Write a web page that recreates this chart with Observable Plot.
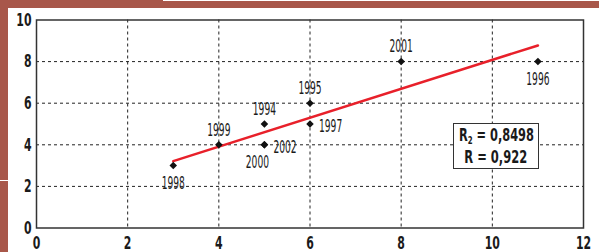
<!DOCTYPE html>
<html>
<head>
<meta charset="utf-8">
<script src="https://cdn.jsdelivr.net/npm/d3@7"></script>
<script src="https://cdn.jsdelivr.net/npm/@observablehq/plot@0.6"></script>
<style>
  html, body { margin: 0; padding: 0; background: #fff; }
  #wrap { position: relative; width: 599px; height: 252px; overflow: hidden; background: #fff; }
  .band { position: absolute; background: #a8574a; }
  .gap { position: absolute; background: #fff; }
  #chart { position: absolute; left: 0; top: 0; }
  #stats {
    position: absolute; left: 453px; top: 122.5px; width: 84px; height: 44px;
    border: 1.5px solid #333; background: #fff; color: #1a1a1a;
    font-family: "Liberation Sans Narrow", "Arial Narrow", "DejaVu Sans Condensed", sans-serif;
    font-weight: bold; font-size: 17px; line-height: 22px; text-align: center;
    white-space: nowrap; box-sizing: content-box;
  }
  #stats .line { height: 22px; display: flex; justify-content: center; }
  #stats span { display: inline-block; transform-origin: center; }
  #stats sub { font-size: 0.62em; vertical-align: -0.25em; line-height: 0; }
</style>
</head>
<body>
<div id="wrap">
  <div class="band" style="left:0;top:0;width:599px;height:8px"></div>
  <div class="gap" style="left:163px;top:0;width:436px;height:1px"></div>
  <div class="band" style="left:0;top:0;width:8px;height:252px"></div>
  <div class="gap" style="left:0;top:180px;width:8px;height:1px"></div>
  <div id="chart"></div>
  <div id="stats">
    <div class="line"><span data-w="75">R<sub>2</sub> = 0,8498</span></div>
    <div class="line"><span data-w="63">R = 0,922</span></div>
  </div>
</div>
<script>
// ---- data ----
const years   = [1998, 1999, 1994, 2002, 2000, 1995, 1997, 2001, 1996];
const xValues = [3, 4, 5, 5, 5, 6, 6, 8, 11];
const yValues = [3, 4, 5, 4, 4, 6, 5, 8, 8];
const placement = ["below", "above", "above", "right", "below-left", "above", "right", "above", "below"];
const xTicks = [0, 2, 4, 6, 8, 10, 12];
const yTicks = [0, 2, 4, 6, 8, 10];
const xGrid = [2, 4, 6, 8, 10];
const yGrid = [2, 4, 6, 8];

const data = years.map((year, i) => ({year: String(year), x: xValues[i], y: yValues[i], place: placement[i]}));

const FONT = '"Liberation Sans Narrow", "Arial Narrow", "DejaVu Sans Condensed", sans-serif';
const offsets = {
  "above":      {dx: 0,  dy: -15, anchor: "middle"},
  "below":      {dx: 0,  dy: 18,  anchor: "middle"},
  "below-left": {dx: -7, dy: 17,  anchor: "middle"},
  "right":      {dx: 9,  dy: 2,   anchor: "start"}
};
const labelMarks = Object.entries(offsets).map(([k, o]) =>
  Plot.text(data.filter(d => d.place === k), {
    x: "x", y: "y", text: "year", dx: o.dx, dy: o.dy, textAnchor: o.anchor,
    fontSize: 18, fill: "#1a1a1a"
  })
);

const chart = Plot.plot({
  width: 599, height: 252,
  marginLeft: 36, marginRight: 16, marginTop: 19.5, marginBottom: 24.5,
  x: {domain: [0, 12]},
  y: {domain: [0, 10]},
  style: {fontFamily: FONT, background: "transparent", color: "#1a1a1a", overflow: "visible"},
  marks: [
    Plot.gridX(xGrid, {stroke: "#222", strokeOpacity: 1, strokeWidth: 1, strokeDasharray: "3,3"}),
    Plot.gridY(yGrid, {stroke: "#222", strokeOpacity: 1, strokeWidth: 1, strokeDasharray: "3,3"}),
    Plot.linearRegressionY(data, {x: "x", y: "y", ci: 0, stroke: "#e8202a", strokeWidth: 2.5}),
    Plot.dot(data, {x: "x", y: "y", symbol: "diamond2", r: 3.4, fill: "#111", stroke: "none"}),
    ...labelMarks,
    Plot.frame({stroke: "#333", strokeWidth: 1.5}),
    Plot.axisX(xTicks, {tickSize: 0, tickPadding: 8, fontSize: 18, fontWeight: "bold", label: null}),
    Plot.axisY(yTicks, {tickSize: 0, tickPadding: 5, fontSize: 18, fontWeight: "bold", label: null})
  ]
});
document.getElementById("chart").appendChild(chart);

// condense texts horizontally to the narrow look of the reference
function condense(sel, perChar) {
  chart.querySelectorAll(sel).forEach(t => {
    const w = t.getComputedTextLength();
    const target = perChar * t.textContent.length;
    if (w > target) {
      t.setAttribute("textLength", target.toFixed(1));
      t.setAttribute("lengthAdjust", "spacingAndGlyphs");
    }
  });
}
condense('g[aria-label="text"] text', 5.8);
condense('g[aria-label="x-axis tick label"] text, g[aria-label="y-axis tick label"] text', 7.6);

document.querySelectorAll("#stats span").forEach(s => {
  const w = s.getBoundingClientRect().width;
  const target = +s.dataset.w;
  if (w > target) s.style.transform = `scaleX(${(target / w).toFixed(3)})`;
});
</script>
</body>
</html>
